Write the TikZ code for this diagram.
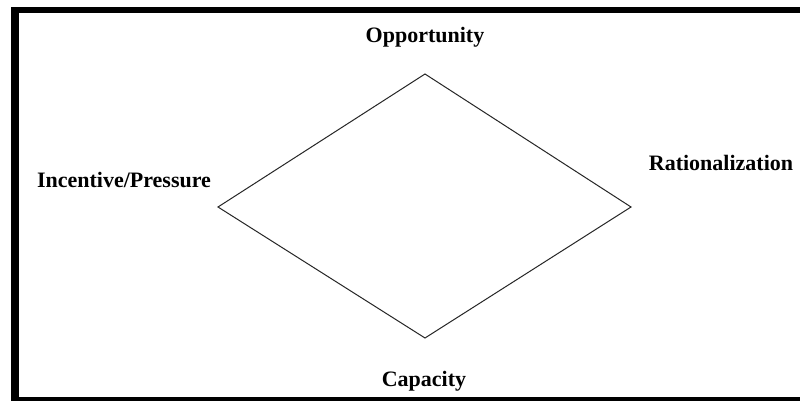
\documentclass[tikz,border=0pt]{standalone}
\usepackage{fontspec}
\setmainfont{Liberation Serif}
\begin{document}
\begin{tikzpicture}[x=1pt,y=-1pt,
  lbl/.style={font=\fontsize{22}{24}\selectfont\bfseries, inner sep=0pt},
  edge/.style={draw=black!85, line width=1pt},
  frame/.style={fill=black}]
\useasboundingbox (0,0) rectangle (800,401);
\fill[white] (0,0) rectangle (800,401);
% frame
\fill[frame] (11,7) rectangle (800,13.5);
\fill[frame] (11,7) rectangle (19,401);
\fill[frame] (11,397) rectangle (800,401);
% diamond corners
\coordinate (t) at (425,74);
\coordinate (l) at (218,207);
\coordinate (r) at (631,207);
\coordinate (b) at (425,338);
\draw[edge] (t) -- (r) -- (b) -- (l) -- cycle;
% labels
\node[lbl] (opp) at (425,37) {Opportunity};
\node[lbl] (inc) at (124,180) {Incentive/Pressure};
\node[lbl] (rat) at (721,163) {Rationalization};
\node[lbl] (cap) at (424,381) {Capacity};
\end{tikzpicture}
\end{document}
